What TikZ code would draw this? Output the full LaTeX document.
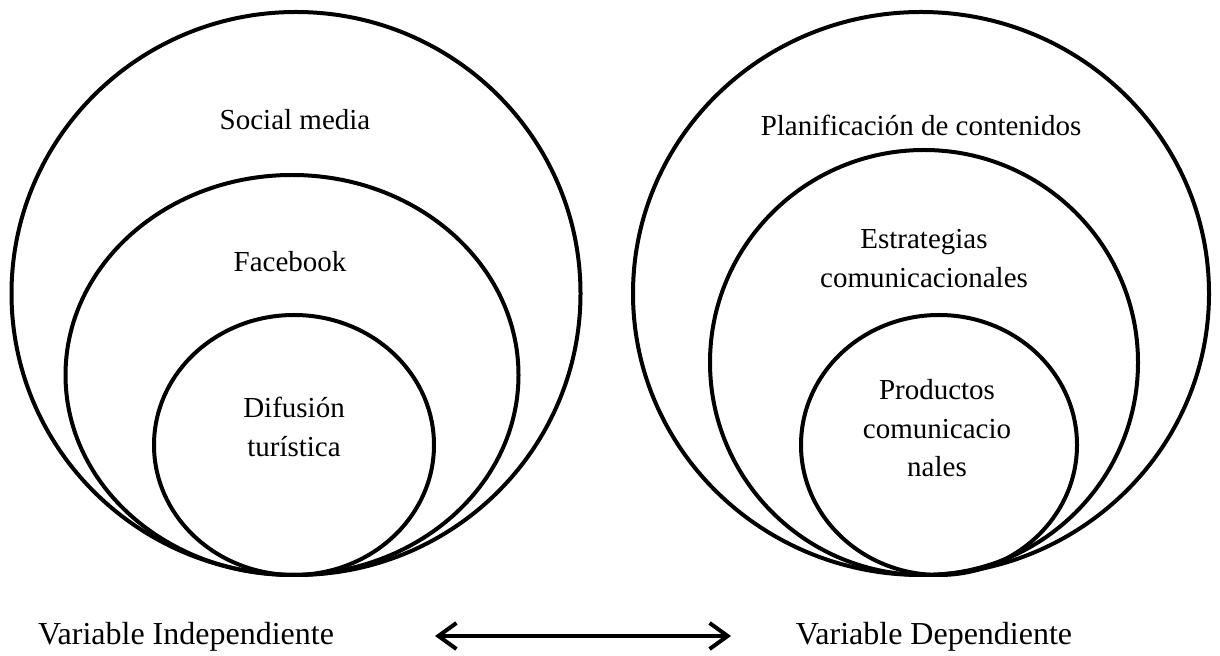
\documentclass[tikz,border=0pt]{standalone}
\usepackage{fontspec}
\setmainfont{Liberation Serif}
\usetikzlibrary{arrows.meta,shapes.geometric}
\begin{document}
\begin{tikzpicture}[x=0.5pt,y=-0.5pt,
  ring/.style={draw,ellipse,line width=2pt,inner sep=0pt},
  lbl/.style={font=\fontsize{14.5}{19.25}\selectfont,align=center,inner sep=0pt},
  var/.style={font=\fontsize{16}{19}\selectfont,inner sep=0pt,anchor=base},
  barb/.style={line width=2pt,{Straight Barb[length=9pt,width=13pt]}-{Straight Barb[length=9pt,width=13pt]}}]
\useasboundingbox (0,0) rectangle (1220,656);
% left group
\node[ring,minimum width=284.5pt,minimum height=281.5pt] (lo) at (296,293.5) {};
\node[ring,minimum width=226.5pt,minimum height=200pt] (lm) at (292,375) {};
\node[ring,minimum width=140pt,minimum height=130pt] (li) at (294,445) {};
% right group
\node[ring,minimum width=288pt,minimum height=281.5pt] (ro) at (921,293.5) {};
\node[ring,minimum width=214pt,minimum height=212.5pt] (rm) at (924,362.5) {};
\node[ring,minimum width=138pt,minimum height=130pt] (ri) at (939,445) {};
% labels
\node[lbl,anchor=base] (tlo) at (295,130) {Social media};
\node[lbl,anchor=base] (tlm) at (290,272) {Facebook};
\node[lbl] (tli) at (294,427) {Difusión\\turística};
\node[lbl,anchor=base] (tro) at (921,136) {Planificación de contenidos};
\node[lbl] (trm) at (924,258.5) {Estrategias\\comunicacionales};
\node[lbl] (tri) at (937,428.5) {Productos\\comunicacio\\nales};
% variables
\node[var] (vi) at (186,645) {Variable Independiente};
\node[var] (vd) at (934,645) {Variable Dependiente};
\coordinate (al) at (435,636);
\coordinate (ar) at (731,636);
\draw[barb] (al) -- (ar);
\end{tikzpicture}
\end{document}
